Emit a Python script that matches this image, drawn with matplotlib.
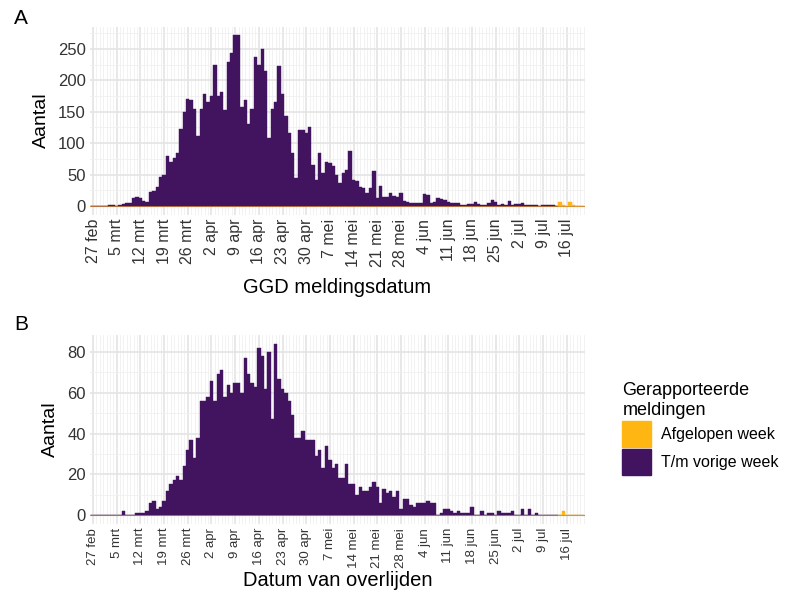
import numpy as np
import matplotlib
matplotlib.use("Agg")
import matplotlib.pyplot as plt
from matplotlib.patches import Patch
from matplotlib.ticker import MultipleLocator

plt.rcParams['font.family'] = ['Liberation Sans', 'DejaVu Sans']

# day index 0 = 27 feb 2020, last day 144 = 20 jul
tick_labels = ['27 feb', '5 mrt', '12 mrt', '19 mrt', '26 mrt', '2 apr', '9 apr',
               '16 apr', '23 apr', '30 apr', '7 mei', '14 mei', '21 mei', '28 mei',
               '4 jun', '11 jun', '18 jun', '25 jun', '2 jul', '9 jul', '16 jul']

# A: GGD meldingen per dag (t/m vorige week: dag 0-137, afgelopen week: dag 138-144)
meldingen_vorige = [
    0, 0, 0, 0, 0, 1, 1, 0, 2, 3,
    4, 4, 12, 14, 13, 8, 7, 23, 24, 30,
    46, 49, 80, 70, 77, 84, 122, 150, 171, 169,
    155, 112, 155, 179, 166, 175, 224, 175, 182, 153,
    229, 244, 272, 272, 158, 169, 131, 154, 237, 224,
    250, 215, 108, 154, 166, 223, 178, 144, 116, 84,
    44, 121, 121, 116, 126, 66, 42, 84, 52, 70,
    68, 63, 50, 36, 52, 57, 88, 42, 39, 30,
    28, 20, 28, 56, 12, 31, 15, 15, 20, 16,
    14, 20, 8, 6, 5, 4, 4, 5, 19, 17,
    5, 7, 12, 11, 10, 7, 5, 5, 4, 2,
    2, 3, 3, 6, 3, 2, 2, 4, 9, 6,
    2, 3, 2, 8, 2, 3, 3, 4, 2, 2,
    1, 2, 0, 2, 1, 1, 1, 0]
meldingen_afgelopen = [6, 1, 0, 6, 1, 0, 0]

# B: overleden per dag
overleden_vorige = [
    0, 0, 0, 0, 0, 0, 0, 0, 0, 2,
    0, 0, 0, 1, 1, 1, 2, 6, 7, 3,
    4, 7, 12, 15, 17, 19, 17, 24, 32, 37,
    28, 38, 56, 56, 58, 66, 56, 69, 71, 58,
    64, 60, 65, 65, 60, 77, 69, 65, 63, 82,
    78, 62, 80, 47, 84, 67, 62, 60, 56, 49,
    38, 38, 41, 37, 37, 37, 29, 32, 23, 34,
    27, 23, 25, 18, 18, 25, 15, 15, 10, 14,
    12, 12, 14, 16, 14, 6, 13, 11, 12, 9,
    12, 3, 8, 8, 5, 4, 6, 6, 6, 7,
    6, 6, 0, 1, 3, 3, 2, 1, 2, 1,
    1, 1, 4, 0, 0, 2, 0, 1, 1, 0,
    2, 1, 1, 1, 2, 0, 0, 3, 0, 3,
    0, 1, 0, 0, 0, 0, 0, 0]
overleden_afgelopen = [0, 2, 0, 0, 0, 0, 0]

paars = '#42145f'
oranje = '#ffb612'
W, H = 787, 607

fig = plt.figure(figsize=(W / 100, H / 100), dpi=100)


def panel(rect, vorige, afgelopen, ymax, ystep, xlabel, xlab_y, tick_fs):
    ax = fig.add_axes(rect)
    d_v = np.arange(len(vorige))
    d_a = np.arange(len(vorige), len(vorige) + len(afgelopen))
    ax.axhline(0, color='#d08a3c', lw=0.8, zorder=1)
    ax.bar(d_v, vorige, width=1.0, color=paars, edgecolor=paars, lw=0.3, zorder=2)
    ax.bar(d_a, afgelopen, width=1.0, color=oranje, edgecolor=oranje, lw=0.3, zorder=2)
    ax.set_xlim(-0.9, 145.4)
    ax.set_ylim(-ymax * 0.05, ymax * 1.05)
    ax.set_xticks(np.arange(0, 7 * len(tick_labels), 7))
    ax.set_xticklabels(tick_labels, rotation=90, fontsize=tick_fs, color='#333333')
    ax.xaxis.set_minor_locator(MultipleLocator(1))
    ax.yaxis.set_major_locator(MultipleLocator(ystep))
    ax.yaxis.set_minor_locator(MultipleLocator(ystep / 2))
    ax.tick_params(axis='y', labelsize=12, labelcolor='#333333')
    ax.tick_params(which='both', length=0, pad=3)
    ax.grid(which='major', color='#e4e4e4', lw=1.2, zorder=0)
    ax.grid(which='minor', color='#f0f0f0', lw=0.6, zorder=0)
    ax.set_axisbelow(True)
    for s in ax.spines.values():
        s.set_visible(False)
    ax.set_ylabel('Aantal', fontsize=14, labelpad=6)
    ax.set_xlabel(xlabel, fontsize=14.5, va='center')
    # place x label at its pixel row
    bottom_px = (1 - rect[1]) * H
    ax.xaxis.set_label_coords(0.5, -(xlab_y - bottom_px) / (rect[3] * H))
    return ax


left = 90 / W
width = (585 - 90) / W
panel([left, 1 - 214.5 / H, width, (214.5 - 26.6) / H],
      meldingen_vorige, meldingen_afgelopen, 272, 50, 'GGD meldingsdatum', 287, 11.5)
panel([left, 1 - 523.6 / H, width, (523.6 - 335.3) / H],
      overleden_vorige, overleden_afgelopen, 84, 20, 'Datum van overlijden', 580, 9.5)

fig.text(14 / W, 1 - 18 / H, 'A', fontsize=15, va='center')
fig.text(14 / W, 1 - 325 / H, 'B', fontsize=15, va='center')

handles = [Patch(color=oranje), Patch(color=paars)]
fig.legend(handles, ['Afgelopen week', 'T/m vorige week'],
           loc='upper left', bbox_to_anchor=(608 / W, 1 - 368 / H),
           frameon=False, title='Gerapporteerde\nmeldingen', title_fontsize=13,
           fontsize=11.5, handlelength=1.8, handleheight=2.1, labelspacing=0.15,
           handletextpad=0.6, alignment='left')

fig.savefig('out.png', dpi=100)
